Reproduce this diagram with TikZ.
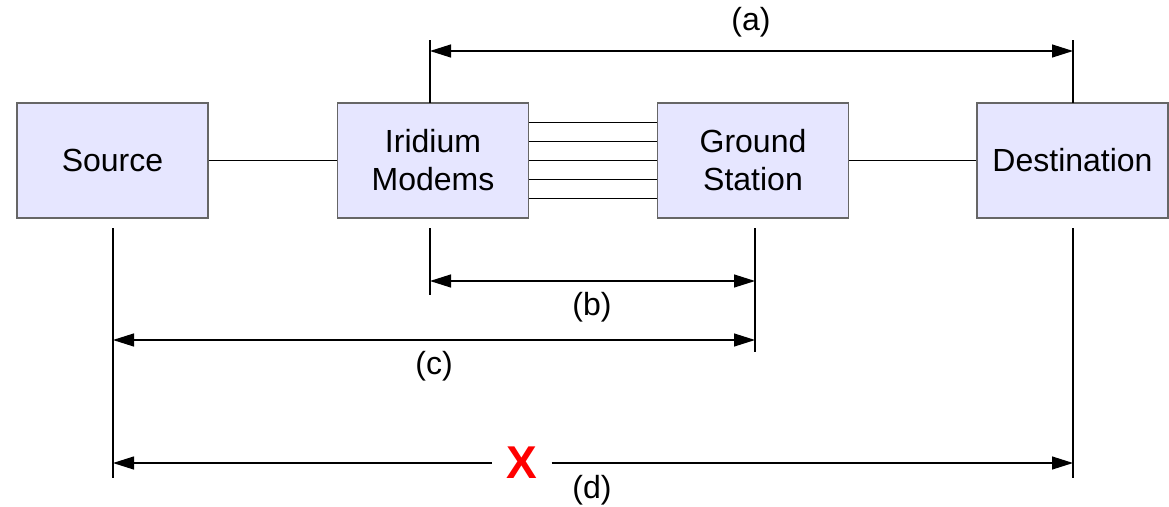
\documentclass[tikz,border=0pt]{standalone}
\usepackage{fontspec}
\setmainfont{Liberation Sans}
\usetikzlibrary{positioning}
\usetikzlibrary{arrows.meta}
\definecolor{boxfill}{HTML}{E6E6FF}
\definecolor{boxline}{HTML}{666666}
\tikzset{
	block/.style={
		draw=boxline,
		fill=boxfill,
		line width=1.2pt,
		minimum width=191pt,
		minimum height=115pt,
		inner sep=0pt,
		align=center,
		font=\fontsize{32}{38}\selectfont
	},
	link/.style={draw, line width=1.2pt},
	ext/.style={draw, line width=1.2pt},
	tip/.tip={Triangle[length=21pt,width=13pt]},
	span/.style={draw, line width=1.2pt, tip-tip},
	spanlabel/.style={font=\fontsize{32}{38}\selectfont, inner sep=0pt},
	cross/.style={text=red, font=\fontsize{46}{46}\bfseries, inner xsep=14pt, inner ysep=0pt},
	diagram/.style={x=1pt, y=-1pt}
}

\begin{document}
\begin{tikzpicture} [diagram]
	\useasboundingbox (0,0) rectangle (1169,506);

	% the four stations
	\node [block] (source) at (112.5,160.5) {Source};
	\node [block] (modems) at (433,160.5) {Iridium\\Modems};
	\node [block] (ground) at (753,160.5) {Ground\\Station};
	\node [block] (dest) at (1072.5,160.5) {Destination};

	\draw [link] (source) -- (modems);
	\draw [link] (ground) -- (dest);
	\foreach \dy in {-38,-19,0,19,38}
		\draw [link] ([yshift=\dy pt]modems.east) -- ([yshift=\dy pt]ground.west);

	% extension lines
	\coordinate (a0) at (430,40);    \coordinate (a1) at (430,103);
	\coordinate (a2) at (1073,40);   \coordinate (a3) at (1073,103);
	\coordinate (b0) at (430,228);   \coordinate (b1) at (430,295);
	\coordinate (g0) at (755,228);   \coordinate (g1) at (755,352);
	\coordinate (s0) at (113,228);   \coordinate (s1) at (113,478);
	\coordinate (d0) at (1073,228);  \coordinate (d1) at (1073,478);
	\foreach \u/\v in {a0/a1, a2/a3, b0/b1, g0/g1, s0/s1, d0/d1}
		\draw [ext] (\u) -- (\v);

	% spans
	\coordinate (aL) at (430,51);  \coordinate (aR) at (1073,51);
	\coordinate (bL) at (430,281); \coordinate (bR) at (755,281);
	\coordinate (cL) at (113,340); \coordinate (cR) at (755,340);
	\coordinate (dL) at (113,463); \coordinate (dR) at (1073,463);

	\draw [span] (aL) -- (aR);
	\draw [span] (bL) -- (bR);
	\draw [span] (cL) -- (cR);
	\node [cross] (x) at (522,463) {X};
	\draw [span, tip-] (dL) -- (x.west);
	\draw [span, -tip] (x.east) -- (dR);

	\node [spanlabel] (la) at (751,22) {(a)};
	\node [spanlabel] (lb) at (592,307) {(b)};
	\node [spanlabel] (lc) at (434,366) {(c)};
	\node [spanlabel] (ld) at (592,490) {(d)};
\end{tikzpicture}
\end{document}
